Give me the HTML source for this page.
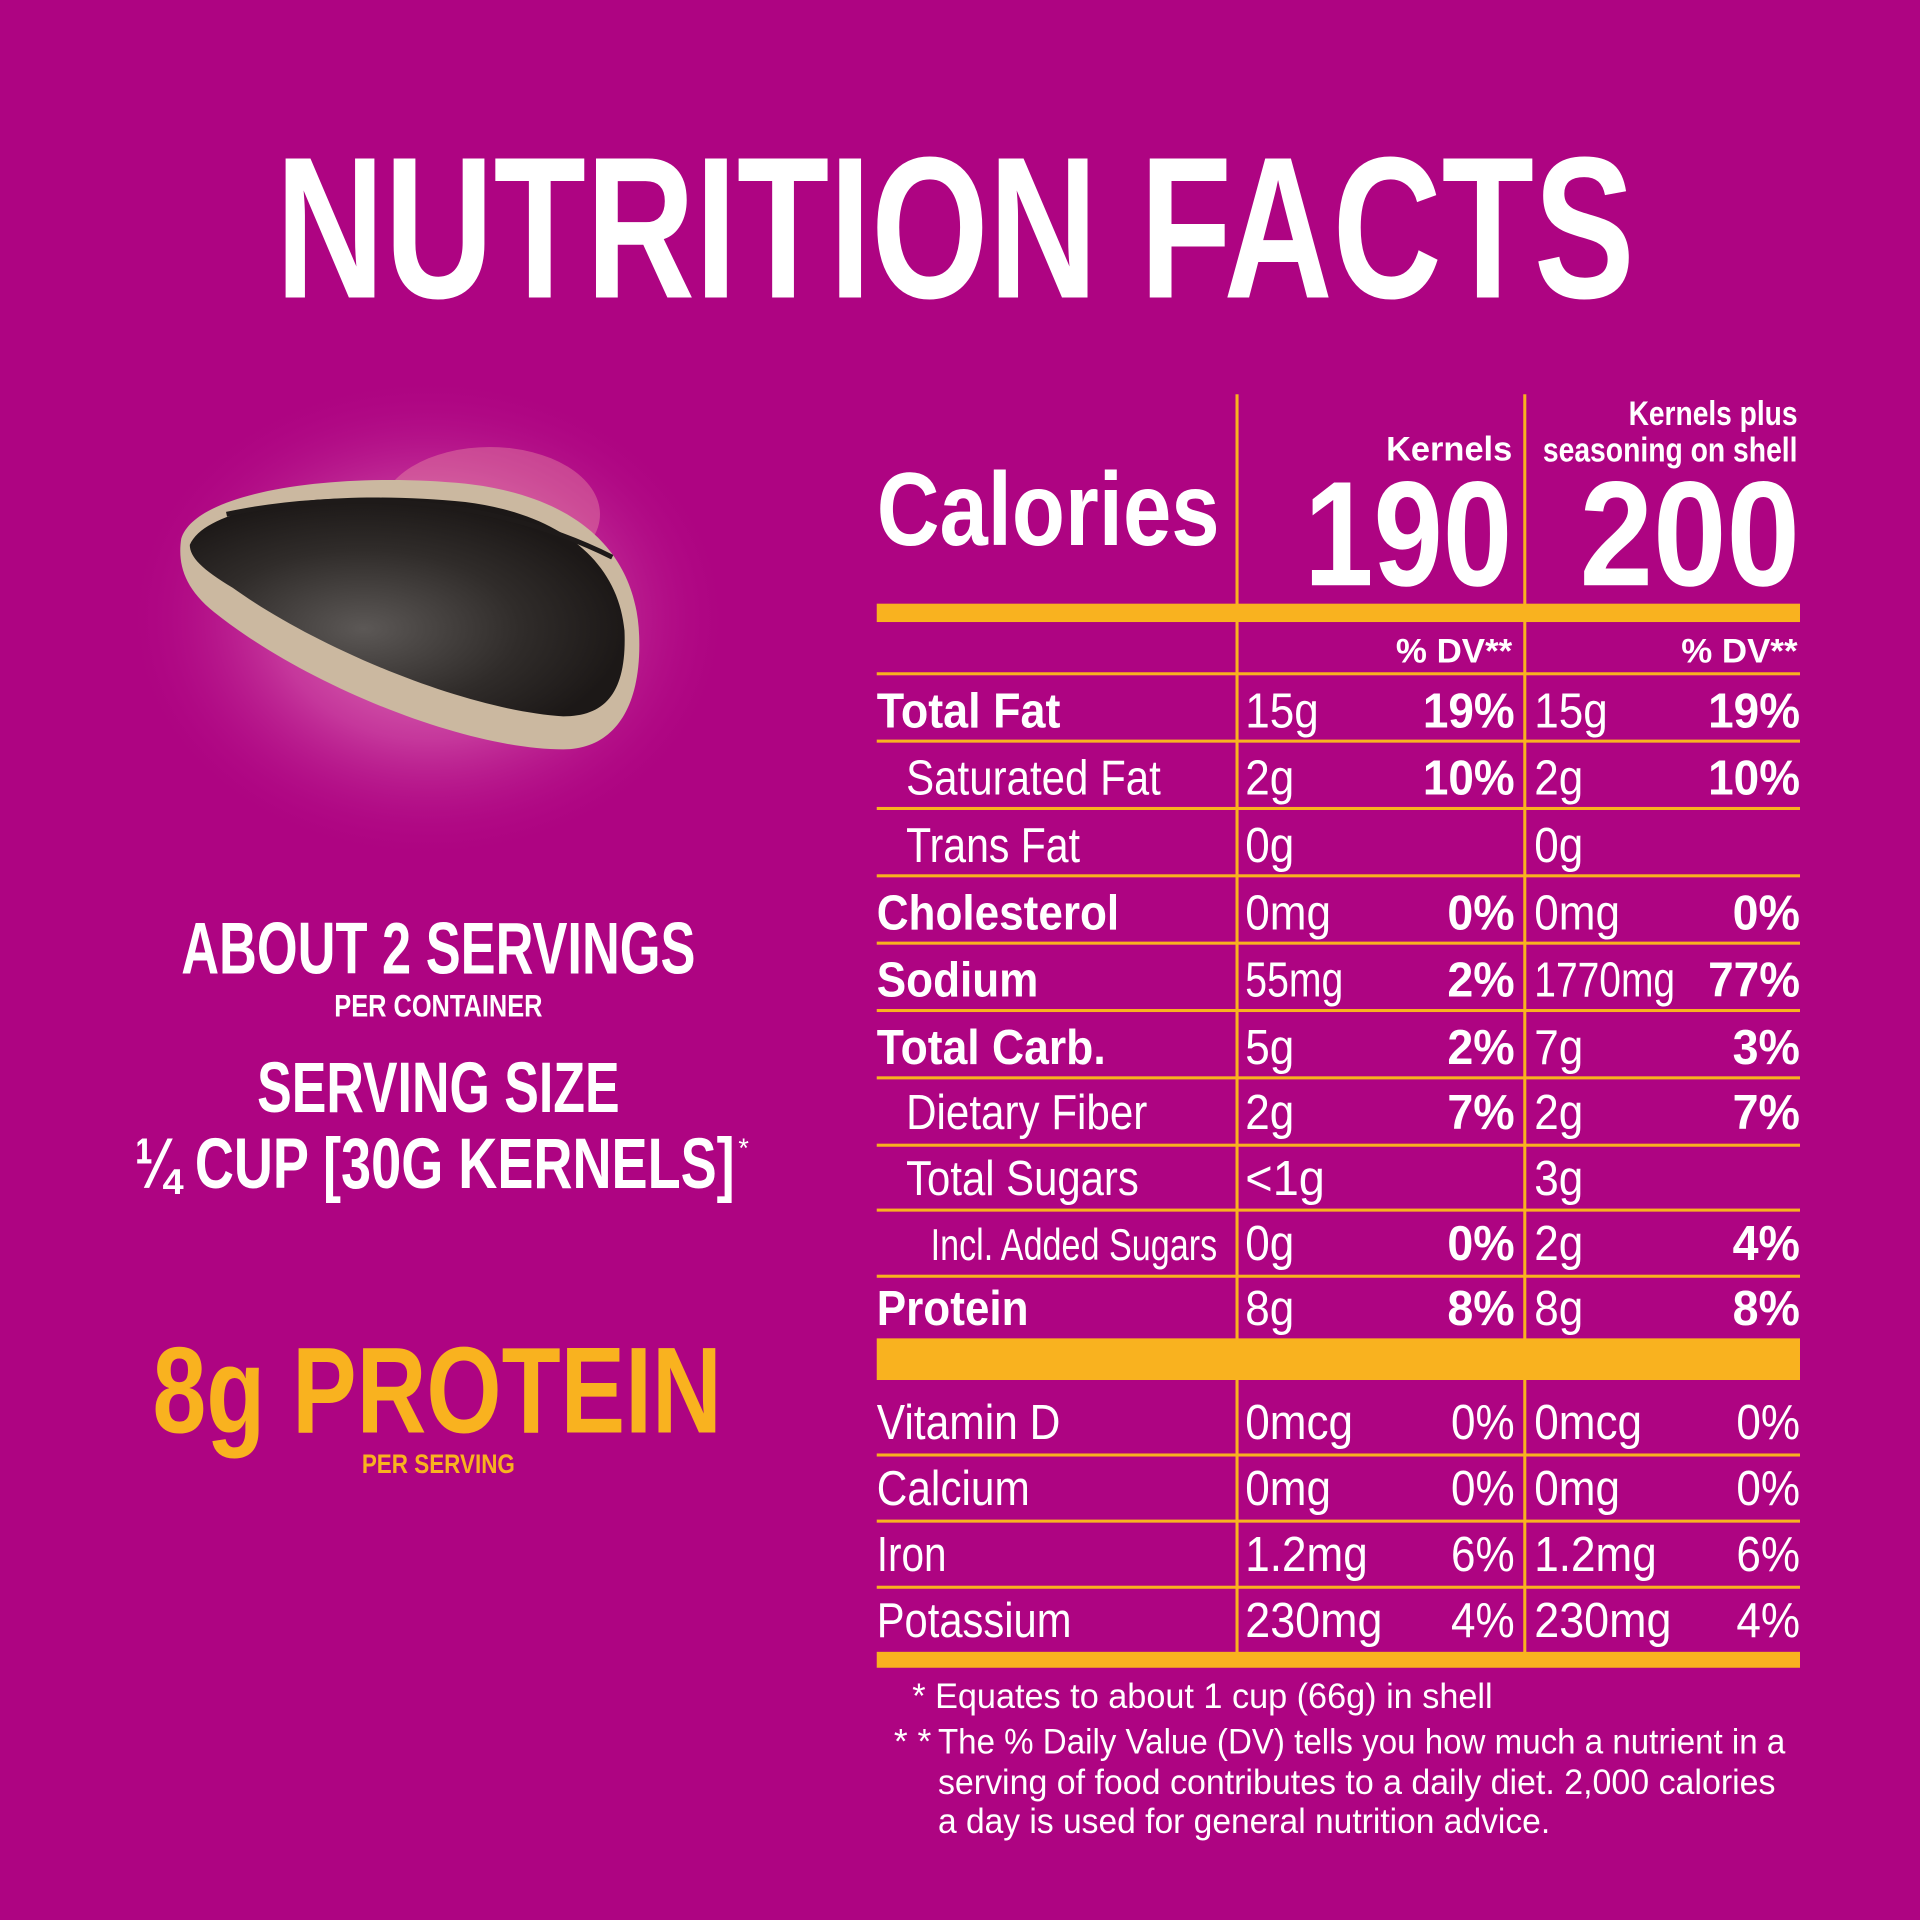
<!DOCTYPE html>
<html><head><meta charset="utf-8"><style>html,body{margin:0;padding:0;background:#AE0482}svg{display:block}</style></head>
<body>
<svg xmlns="http://www.w3.org/2000/svg" width="1920" height="1920" viewBox="0 0 1568 1568">
<defs>
<radialGradient id="glow" cx="50%" cy="50%" r="50%">
<stop offset="0" stop-color="#f0a0c8" stop-opacity="0.9"/>
<stop offset="0.5" stop-color="#d860b0" stop-opacity="0.55"/>
<stop offset="1" stop-color="#AE0482" stop-opacity="0"/>
</radialGradient>
<radialGradient id="seed" cx="40%" cy="60%" r="60%">
<stop offset="0" stop-color="#5c5856"/>
<stop offset="0.6" stop-color="#302c2a"/>
<stop offset="1" stop-color="#1c1817"/>
</radialGradient>
</defs>
<rect width="1568" height="1568" fill="#AE0482"/>
<g font-family="'Liberation Sans Narrow','Liberation Sans',sans-serif" fill="#fff">
<text x="780" y="243" font-size="165" font-weight="bold" text-anchor="middle" textLength="1110" lengthAdjust="spacingAndGlyphs">NUTRITION FACTS</text>

<!-- seed -->
<ellipse cx="350" cy="505" rx="250" ry="200" fill="url(#glow)"/>
<ellipse cx="400" cy="420" rx="90" ry="55" fill="#f3a8a8" opacity="0.35"/>
<path d="M148 440 C160 400 280 385 380 395 C470 405 520 450 522 520 C524 580 500 612 460 612 C380 612 250 560 175 500 C150 480 145 460 148 440 Z" fill="#cbb8a0"/>
<path d="M155 445 C170 410 280 400 380 410 C460 420 505 460 510 515 C512 565 495 585 460 585 C380 580 260 530 190 480 C165 465 155 455 155 445 Z" fill="url(#seed)"/>
<path d="M185 420 C280 400 400 405 500 455" stroke="#1e1a19" stroke-width="4" fill="none"/>

<!-- left text -->
<text x="358" y="795" font-size="60" font-weight="bold" text-anchor="middle" textLength="420" lengthAdjust="spacingAndGlyphs">ABOUT 2 SERVINGS</text>
<text x="358" y="830" font-size="26" font-weight="bold" text-anchor="middle" textLength="170" lengthAdjust="spacingAndGlyphs">PER CONTAINER</text>
<text x="358" y="908" font-size="58" font-weight="bold" text-anchor="middle" textLength="296" lengthAdjust="spacingAndGlyphs">SERVING SIZE</text>
<text x="355" y="970" font-size="58" font-weight="bold" text-anchor="middle" textLength="490" lengthAdjust="spacingAndGlyphs">¼ CUP [30G KERNELS]</text>
<text x="603" y="945" font-size="22">*</text>
<text x="357" y="1170" font-size="100" font-weight="bold" text-anchor="middle" fill="#F9B21F" textLength="465" lengthAdjust="spacingAndGlyphs">8g PROTEIN</text>
<text x="358" y="1203" font-size="22" font-weight="bold" text-anchor="middle" fill="#F9B21F" textLength="125" lengthAdjust="spacingAndGlyphs">PER SERVING</text>

<!-- table lines -->
<g fill="#F9B21F">
<rect x="1009" y="322" width="2.5" height="1030"/>
<rect x="1244" y="322" width="2.5" height="1030"/>
<rect x="716" y="493" width="754" height="15"/>
<rect x="716" y="549" width="754" height="2.5"/>
<rect x="716" y="604" width="754" height="2.5"/>
<rect x="716" y="659" width="754" height="2.5"/>
<rect x="716" y="714" width="754" height="2.5"/>
<rect x="716" y="769" width="754" height="2.5"/>
<rect x="716" y="824" width="754" height="2.5"/>
<rect x="716" y="879" width="754" height="2.5"/>
<rect x="716" y="934" width="754" height="2.5"/>
<rect x="716" y="987" width="754" height="2.5"/>
<rect x="716" y="1041" width="754" height="2.5"/>
<rect x="716" y="1093" width="754" height="34"/>
<rect x="716" y="1187" width="754" height="2.5"/>
<rect x="716" y="1241" width="754" height="2.5"/>
<rect x="716" y="1295" width="754" height="2.5"/>
<rect x="716" y="1349" width="754" height="13"/>
</g>

<!-- header -->
<text x="716" y="445" font-size="85" font-weight="bold" textLength="280" lengthAdjust="spacingAndGlyphs">Calories</text>
<text x="1235" y="376" font-size="28" font-weight="bold" text-anchor="end" textLength="103" lengthAdjust="spacingAndGlyphs">Kernels</text>
<text x="1468" y="347" font-size="28" font-weight="bold" text-anchor="end" textLength="138" lengthAdjust="spacingAndGlyphs">Kernels plus</text>
<text x="1468" y="377" font-size="28" font-weight="bold" text-anchor="end" textLength="208" lengthAdjust="spacingAndGlyphs">seasoning on shell</text>
<text x="1235" y="478" font-size="122" font-weight="bold" text-anchor="end" textLength="170" lengthAdjust="spacingAndGlyphs">190</text>
<text x="1470" y="478" font-size="122" font-weight="bold" text-anchor="end" textLength="180" lengthAdjust="spacingAndGlyphs">200</text>
<text x="1235" y="541" font-size="28" font-weight="bold" text-anchor="end" textLength="95" lengthAdjust="spacingAndGlyphs">% DV**</text>
<text x="1468" y="541" font-size="28" font-weight="bold" text-anchor="end" textLength="95" lengthAdjust="spacingAndGlyphs">% DV**</text>

<g font-size="40">
<text x="716" y="594" font-weight="bold" textLength="150" lengthAdjust="spacingAndGlyphs">Total Fat</text>
<text x="740" y="649" textLength="208" lengthAdjust="spacingAndGlyphs">Saturated Fat</text>
<text x="740" y="704" textLength="142" lengthAdjust="spacingAndGlyphs">Trans Fat</text>
<text x="716" y="759" font-weight="bold" textLength="198" lengthAdjust="spacingAndGlyphs">Cholesterol</text>
<text x="716" y="814" font-weight="bold" textLength="132" lengthAdjust="spacingAndGlyphs">Sodium</text>
<text x="716" y="869" font-weight="bold" textLength="187" lengthAdjust="spacingAndGlyphs">Total Carb.</text>
<text x="740" y="922" textLength="197" lengthAdjust="spacingAndGlyphs">Dietary Fiber</text>
<text x="740" y="976" textLength="190" lengthAdjust="spacingAndGlyphs">Total Sugars</text>
<text x="760" y="1029" font-size="36" textLength="234" lengthAdjust="spacingAndGlyphs">Incl. Added Sugars</text>
<text x="716" y="1082" font-weight="bold" textLength="124" lengthAdjust="spacingAndGlyphs">Protein</text>
<text x="716" y="1175" textLength="150" lengthAdjust="spacingAndGlyphs">Vitamin D</text>
<text x="716" y="1229" textLength="125" lengthAdjust="spacingAndGlyphs">Calcium</text>
<text x="716" y="1283" textLength="57" lengthAdjust="spacingAndGlyphs">Iron</text>
<text x="716" y="1337" textLength="159" lengthAdjust="spacingAndGlyphs">Potassium</text>

<text x="1017" y="594" textLength="60" lengthAdjust="spacingAndGlyphs">15g</text>
<text x="1017" y="649" textLength="40" lengthAdjust="spacingAndGlyphs">2g</text>
<text x="1017" y="704" textLength="40" lengthAdjust="spacingAndGlyphs">0g</text>
<text x="1017" y="759" textLength="70" lengthAdjust="spacingAndGlyphs">0mg</text>
<text x="1017" y="814" textLength="80" lengthAdjust="spacingAndGlyphs">55mg</text>
<text x="1017" y="869" textLength="40" lengthAdjust="spacingAndGlyphs">5g</text>
<text x="1017" y="922" textLength="40" lengthAdjust="spacingAndGlyphs">2g</text>
<text x="1017" y="976" textLength="65" lengthAdjust="spacingAndGlyphs">&lt;1g</text>
<text x="1017" y="1029" textLength="40" lengthAdjust="spacingAndGlyphs">0g</text>
<text x="1017" y="1082" textLength="40" lengthAdjust="spacingAndGlyphs">8g</text>
<text x="1017" y="1175" textLength="88" lengthAdjust="spacingAndGlyphs">0mcg</text>
<text x="1017" y="1229" textLength="70" lengthAdjust="spacingAndGlyphs">0mg</text>
<text x="1017" y="1283" textLength="100" lengthAdjust="spacingAndGlyphs">1.2mg</text>
<text x="1017" y="1337" textLength="112" lengthAdjust="spacingAndGlyphs">230mg</text>
<g text-anchor="end" font-weight="bold">
<text x="1237" y="594" textLength="75" lengthAdjust="spacingAndGlyphs">19%</text>
<text x="1237" y="649" textLength="75" lengthAdjust="spacingAndGlyphs">10%</text>
<text x="1237" y="759" textLength="55" lengthAdjust="spacingAndGlyphs">0%</text>
<text x="1237" y="814" textLength="55" lengthAdjust="spacingAndGlyphs">2%</text>
<text x="1237" y="869" textLength="55" lengthAdjust="spacingAndGlyphs">2%</text>
<text x="1237" y="922" textLength="55" lengthAdjust="spacingAndGlyphs">7%</text>
<text x="1237" y="1029" textLength="55" lengthAdjust="spacingAndGlyphs">0%</text>
<text x="1237" y="1082" textLength="55" lengthAdjust="spacingAndGlyphs">8%</text>
</g>
<g text-anchor="end">
<text x="1237" y="1175" textLength="52" lengthAdjust="spacingAndGlyphs">0%</text>
<text x="1237" y="1229" textLength="52" lengthAdjust="spacingAndGlyphs">0%</text>
<text x="1237" y="1283" textLength="52" lengthAdjust="spacingAndGlyphs">6%</text>
<text x="1237" y="1337" textLength="52" lengthAdjust="spacingAndGlyphs">4%</text>
</g>

<text x="1253" y="594" textLength="60" lengthAdjust="spacingAndGlyphs">15g</text>
<text x="1253" y="649" textLength="40" lengthAdjust="spacingAndGlyphs">2g</text>
<text x="1253" y="704" textLength="40" lengthAdjust="spacingAndGlyphs">0g</text>
<text x="1253" y="759" textLength="70" lengthAdjust="spacingAndGlyphs">0mg</text>
<text x="1253" y="814" textLength="115" lengthAdjust="spacingAndGlyphs">1770mg</text>
<text x="1253" y="869" textLength="40" lengthAdjust="spacingAndGlyphs">7g</text>
<text x="1253" y="922" textLength="40" lengthAdjust="spacingAndGlyphs">2g</text>
<text x="1253" y="976" textLength="40" lengthAdjust="spacingAndGlyphs">3g</text>
<text x="1253" y="1029" textLength="40" lengthAdjust="spacingAndGlyphs">2g</text>
<text x="1253" y="1082" textLength="40" lengthAdjust="spacingAndGlyphs">8g</text>
<text x="1253" y="1175" textLength="88" lengthAdjust="spacingAndGlyphs">0mcg</text>
<text x="1253" y="1229" textLength="70" lengthAdjust="spacingAndGlyphs">0mg</text>
<text x="1253" y="1283" textLength="100" lengthAdjust="spacingAndGlyphs">1.2mg</text>
<text x="1253" y="1337" textLength="112" lengthAdjust="spacingAndGlyphs">230mg</text>
<g text-anchor="end" font-weight="bold">
<text x="1470" y="594" textLength="75" lengthAdjust="spacingAndGlyphs">19%</text>
<text x="1470" y="649" textLength="75" lengthAdjust="spacingAndGlyphs">10%</text>
<text x="1470" y="759" textLength="55" lengthAdjust="spacingAndGlyphs">0%</text>
<text x="1470" y="814" textLength="75" lengthAdjust="spacingAndGlyphs">77%</text>
<text x="1470" y="869" textLength="55" lengthAdjust="spacingAndGlyphs">3%</text>
<text x="1470" y="922" textLength="55" lengthAdjust="spacingAndGlyphs">7%</text>
<text x="1470" y="1029" textLength="55" lengthAdjust="spacingAndGlyphs">4%</text>
<text x="1470" y="1082" textLength="55" lengthAdjust="spacingAndGlyphs">8%</text>
</g>
<g text-anchor="end">
<text x="1470" y="1175" textLength="52" lengthAdjust="spacingAndGlyphs">0%</text>
<text x="1470" y="1229" textLength="52" lengthAdjust="spacingAndGlyphs">0%</text>
<text x="1470" y="1283" textLength="52" lengthAdjust="spacingAndGlyphs">6%</text>
<text x="1470" y="1337" textLength="52" lengthAdjust="spacingAndGlyphs">4%</text>
</g>
</g>

<g font-size="29">
<text x="745" y="1395" textLength="474" lengthAdjust="spacingAndGlyphs">* Equates to about 1 cup (66g) in shell</text>
<text x="730" y="1432">* *</text>
<text x="766" y="1432" textLength="692" lengthAdjust="spacingAndGlyphs">The % Daily Value (DV) tells you how much a nutrient in a</text>
<text x="766" y="1465" textLength="684" lengthAdjust="spacingAndGlyphs">serving of food contributes to a daily diet. 2,000 calories</text>
<text x="766" y="1497" textLength="500" lengthAdjust="spacingAndGlyphs">a day is used for general nutrition advice.</text>
</g>
</g>
</svg>
</body></html>
